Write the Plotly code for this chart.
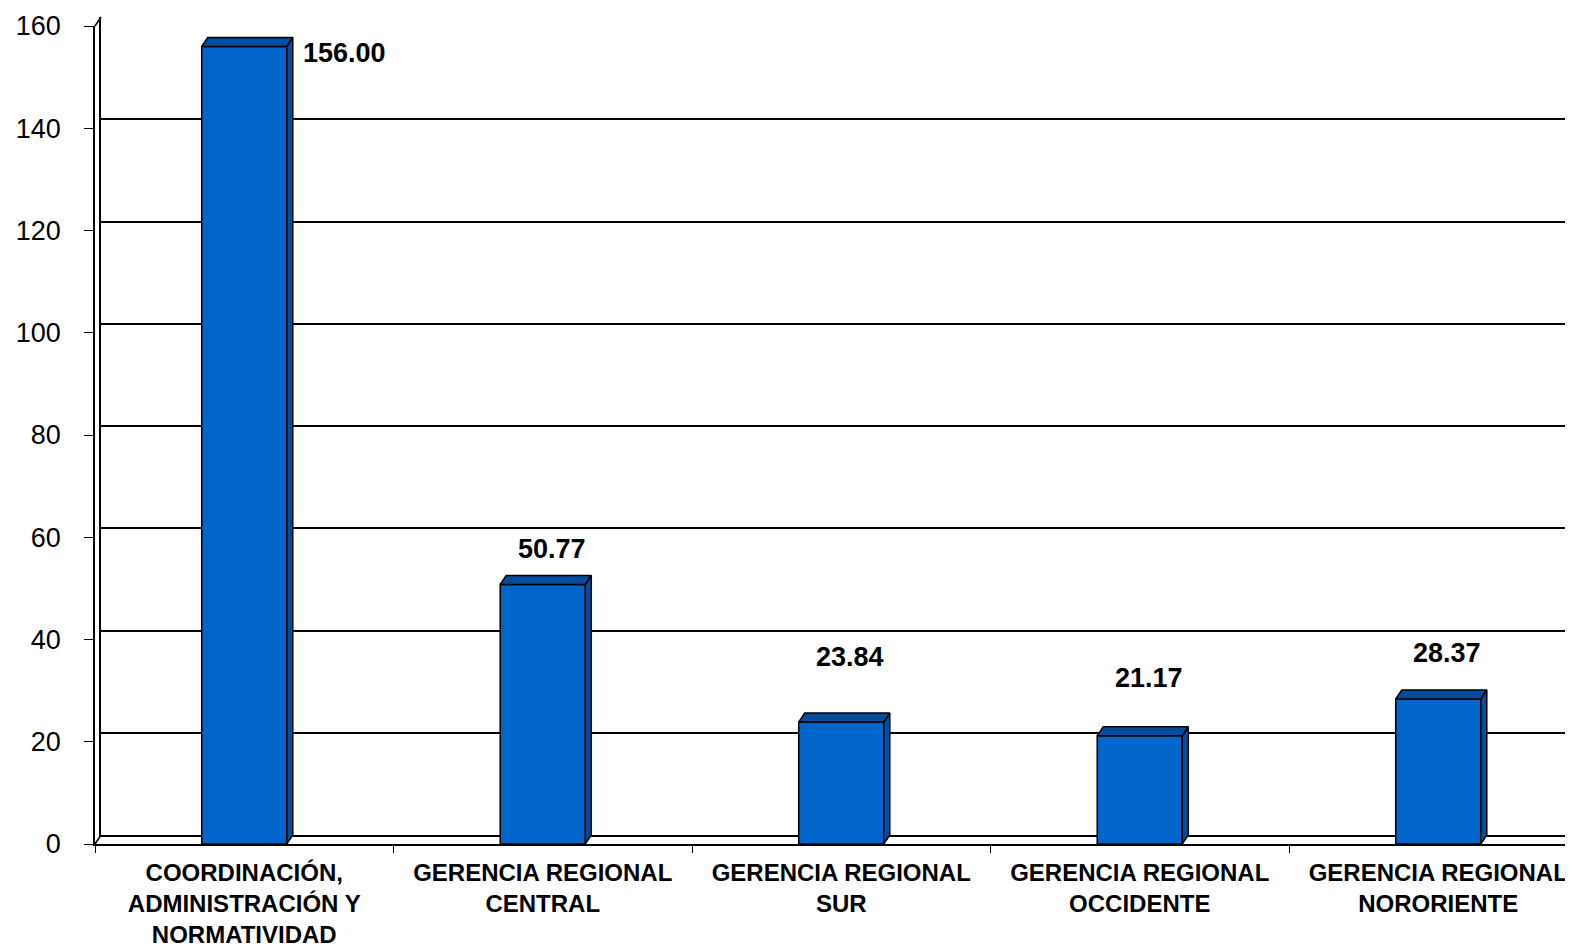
"""Excel-style 3D column chart: values by area."""
import plotly.graph_objects as go

CATEGORIES = [
    "COORDINACIÓN,<br>ADMINISTRACIÓN Y<br>NORMATIVIDAD",
    "GERENCIA REGIONAL<br>CENTRAL",
    "GERENCIA REGIONAL<br>SUR",
    "GERENCIA REGIONAL<br>OCCIDENTE",
    "GERENCIA REGIONAL<br>NORORIENTE",
]
VALUES = [156.00, 50.77, 23.84, 21.17, 28.37]
Y_TICKS = [0, 20, 40, 60, 80, 100, 120, 140, 160]

# figure geometry (pixels, inside the figure; the page body adds an 8px margin)
W, H = 1573, 947
LEFT, BOTTOM, TOP = 87, 836, 18
CAT_PX = 298.5          # pixels per category
DEPTH_X, DEPTH_Y = 6, 9  # 3D depth offset
BAR_W = 0.285
FRONT = "#0066CC"
SIDE = "#004C9E"
FONT = "Arial, Liberation Sans, sans-serif"

y_max = Y_TICKS[-1]
px_per_unit = (BOTTOM - TOP) / y_max
dx = DEPTH_X / CAT_PX
dy = DEPTH_Y / px_per_unit
x_end = -0.5 + (W - LEFT) / CAT_PX
xs = list(range(len(VALUES)))

fig = go.Figure()

# invisible trace so the back-wall subplot gets drawn
fig.add_scatter(x=[0], y=[0], mode="markers", marker=dict(opacity=0), hoverinfo="skip")

# front faces
fig.add_bar(
    x=xs, y=VALUES, width=BAR_W, marker=dict(color=FRONT, line=dict(color="black", width=1.5)),
    xaxis="x2", yaxis="y2", hoverinfo="skip",
)

# top and side faces of each column
px_, py_ = [], []
for i, v in zip(xs, VALUES):
    l, r = i - BAR_W / 2, i + BAR_W / 2
    px_ += [l, l + dx, r + dx, r, l, None]
    py_ += [v, v + dy, v + dy, v, v, None]
    px_ += [r, r + dx, r + dx, r, r, None]
    py_ += [v, v + dy, dy, 0, v, None]
fig.add_scatter(
    x=px_, y=py_, mode="lines", fill="toself", fillcolor=SIDE,
    line=dict(color="black", width=1.5), xaxis="x2", yaxis="y2", hoverinfo="skip",
)

# value labels
LABEL_POS = [(0.19, 154.7, "left"), (0.03, 57.7, "center"), (0.03, 36.6, "center"),
             (0.03, 32.5, "center"), (0.03, 37.4, "center")]
for i, (v, (ox, ly, anc)) in enumerate(zip(VALUES, LABEL_POS)):
    fig.add_annotation(
        x=i + ox, y=ly, xref="x2", yref="y2", text=f"<b>{v:.2f}</b>", showarrow=False,
        xanchor=anc, font=dict(family=FONT, size=27, color="black"),
    )

# slanted wall/floor corners
for yy in (TOP, BOTTOM):
    fig.add_shape(
        type="line", xref="paper", yref="paper",
        x0=LEFT / W, y0=1 - yy / H, x1=(LEFT + DEPTH_X) / W, y1=1 - (yy - DEPTH_Y) / H,
        line=dict(color="black", width=1.5),
    )

fig.update_layout(
    width=W, height=H,
    margin=dict(l=0, r=0, t=0, b=0),
    paper_bgcolor="white", plot_bgcolor="rgba(0,0,0,0)",
    showlegend=False,
    font=dict(family=FONT, color="black"),
    # back wall: gridlines + floor back edge
    xaxis=dict(
        domain=[(LEFT + DEPTH_X) / W, 1], range=[-0.5, x_end], showgrid=False, zeroline=False,
        showticklabels=False, showline=True, linecolor="black", linewidth=2, automargin=False,
    ),
    yaxis=dict(
        domain=[1 - (BOTTOM - DEPTH_Y) / H, 1 - (TOP - DEPTH_Y) / H], range=[0, y_max],
        tickvals=Y_TICKS, showgrid=True, gridcolor="black", gridwidth=2, zeroline=False,
        showticklabels=False, showline=True, linecolor="black", linewidth=1.5, automargin=False,
    ),
    # front plane: bars, labels, axes
    xaxis2=dict(
        domain=[LEFT / W, 1], range=[-0.5, x_end], anchor="y2", automargin=False,
        tickvals=xs, ticktext=[f"<b>{c}</b>" for c in CATEGORIES], ticks="",
        tickfont=dict(family=FONT, size=24, color="black"), ticklabeloverflow="allow",
        ticklabelstandoff=6,
        minor=dict(tickmode="array", tickvals=[i - 0.5 for i in range(len(VALUES) + 1)],
                   ticks="outside", ticklen=7, tickcolor="black", tickwidth=1, showgrid=False),
        showgrid=False, zeroline=False, showline=True, linecolor="black", linewidth=2,
    ),
    yaxis2=dict(
        domain=[1 - BOTTOM / H, 1 - TOP / H], range=[0, y_max], anchor="x2", automargin=False,
        tickvals=Y_TICKS, ticks="outside", ticklen=9, tickcolor="black", tickwidth=1,
        tickfont=dict(family=FONT, size=27, color="black"), ticklabelstandoff=18,
        showgrid=False, zeroline=False, showline=True, linecolor="black", linewidth=1.5,
    ),
)

fig.write_html("out.html")
